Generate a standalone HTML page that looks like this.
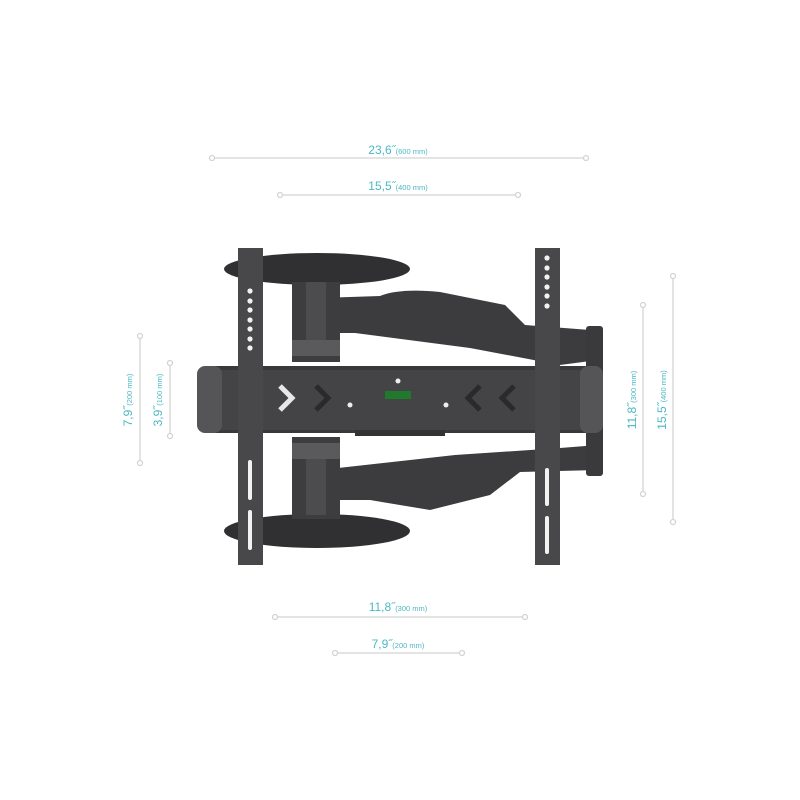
<!DOCTYPE html>
<html><head><meta charset="utf-8"><style>
html,body{margin:0;padding:0;background:#fff;width:800px;height:800px;overflow:hidden}
svg{display:block}
.t{font-family:"Liberation Sans",sans-serif;fill:#4cb8c4}
</style></head><body>
<svg width="800" height="800" viewBox="0 0 800 800">
<g stroke="#d4d4d4" stroke-width="1.3" fill="#fff">
<line x1="212" y1="158" x2="586" y2="158"/><circle cx="212" cy="158" r="2.5"/><circle cx="586" cy="158" r="2.5"/>
<line x1="280" y1="195" x2="518" y2="195"/><circle cx="280" cy="195" r="2.5"/><circle cx="518" cy="195" r="2.5"/>
<line x1="275" y1="617" x2="525" y2="617"/><circle cx="275" cy="617" r="2.5"/><circle cx="525" cy="617" r="2.5"/>
<line x1="335" y1="653" x2="462" y2="653"/><circle cx="335" cy="653" r="2.5"/><circle cx="462" cy="653" r="2.5"/>
<line x1="140" y1="336" x2="140" y2="463"/><circle cx="140" cy="336" r="2.5"/><circle cx="140" cy="463" r="2.5"/>
<line x1="170" y1="363" x2="170" y2="436"/><circle cx="170" cy="363" r="2.5"/><circle cx="170" cy="436" r="2.5"/>
<line x1="643" y1="305" x2="643" y2="494"/><circle cx="643" cy="305" r="2.5"/><circle cx="643" cy="494" r="2.5"/>
<line x1="673" y1="276" x2="673" y2="522"/><circle cx="673" cy="276" r="2.5"/><circle cx="673" cy="522" r="2.5"/>
</g>
<text class="t" x="398" y="154" text-anchor="middle" font-size="12">23,6˝<tspan font-size="7.5">(600 mm)</tspan></text>
<text class="t" x="398" y="190" text-anchor="middle" font-size="12">15,5˝<tspan font-size="7.5">(400 mm)</tspan></text>
<text class="t" x="398" y="611" text-anchor="middle" font-size="12">11,8˝<tspan font-size="7.5">(300 mm)</tspan></text>
<text class="t" x="398" y="648" text-anchor="middle" font-size="12">7,9˝<tspan font-size="7.5">(200 mm)</tspan></text>
<text class="t" font-size="12" text-anchor="middle" transform="translate(132,400) rotate(-90)">7,9˝<tspan font-size="7.5">(200 mm)</tspan></text>
<text class="t" font-size="12" text-anchor="middle" transform="translate(162,400) rotate(-90)">3,9˝<tspan font-size="7.5">(100 mm)</tspan></text>
<text class="t" font-size="12" text-anchor="middle" transform="translate(636,400) rotate(-90)">11,8˝<tspan font-size="7.5">(300 mm)</tspan></text>
<text class="t" font-size="12" text-anchor="middle" transform="translate(666,400) rotate(-90)">15,5˝<tspan font-size="7.5">(400 mm)</tspan></text>

<!-- arms -->
<path d="M320 298 L380 296 Q400 288 440 292 L505 305 L525 325 L590 330 L598 360 L560 365 L470 348 L355 333 L320 333 Z" fill="#3c3c3e"/>
<path d="M320 470 L455 455 L560 448 L598 445 L598 470 L520 472 L490 495 L430 510 L370 500 L320 500 Z" fill="#3c3c3e"/>
<rect x="586" y="326" width="17" height="150" rx="3" fill="#3a3a3c"/>
<!-- discs -->
<ellipse cx="317" cy="269" rx="93" ry="16" fill="#303032"/>
<ellipse cx="317" cy="531" rx="93" ry="17" fill="#303032"/>
<!-- columns -->
<rect x="292" y="282" width="48" height="80" fill="#3d3d3f"/>
<rect x="306" y="282" width="20" height="60" fill="#4c4c4e"/>
<rect x="292" y="340" width="48" height="16" fill="#5a5a5c"/>
<rect x="292" y="437" width="48" height="82" fill="#3d3d3f"/>
<rect x="306" y="455" width="20" height="60" fill="#4c4c4e"/>
<rect x="292" y="443" width="48" height="16" fill="#5a5a5c"/>
<!-- rail -->
<rect x="197" y="366" width="406" height="67" rx="10" fill="#39393b"/>
<rect x="215" y="370" width="370" height="60" fill="#444446"/>
<rect x="355" y="430" width="90" height="6" fill="#333"/>
<rect x="197" y="366" width="25" height="67" rx="8" fill="#555557"/>
<rect x="580" y="366" width="23" height="67" rx="8" fill="#555557"/>
<polyline points="280,386 292,398 280,410" fill="none" stroke="#e8e8e8" stroke-width="5"/>
<polyline points="316,386 328,398 316,410" fill="none" stroke="#2a2a2a" stroke-width="5"/>
<polyline points="480,386 468,398 480,410" fill="none" stroke="#2a2a2a" stroke-width="5"/>
<polyline points="514,386 502,398 514,410" fill="none" stroke="#2a2a2a" stroke-width="5"/>
<rect x="385" y="391" width="26" height="8" fill="#1f7a2c"/>
<circle cx="398" cy="381" r="2.5" fill="#eee"/><circle cx="350" cy="405" r="2.5" fill="#eee"/><circle cx="446" cy="405" r="2.5" fill="#eee"/>
<!-- vertical bars -->
<rect x="238" y="248" width="25" height="317" fill="#48484a"/>
<rect x="535" y="248" width="25" height="317" fill="#48484a"/>
<g fill="#f2f2f2">
<circle cx="250" cy="291" r="2.6"/><circle cx="250" cy="301" r="2.6"/><circle cx="250" cy="310" r="2.6"/><circle cx="250" cy="320" r="2.6"/><circle cx="250" cy="329" r="2.6"/><circle cx="250" cy="339" r="2.6"/><circle cx="250" cy="348" r="2.6"/>
<circle cx="547" cy="258" r="2.6"/><circle cx="547" cy="268" r="2.6"/><circle cx="547" cy="277" r="2.6"/><circle cx="547" cy="287" r="2.6"/><circle cx="547" cy="296" r="2.6"/><circle cx="547" cy="306" r="2.6"/>
<rect x="248" y="460" width="4" height="40" rx="2"/><rect x="248" y="510" width="4" height="40" rx="2"/>
<rect x="545" y="468" width="4" height="38" rx="2"/><rect x="545" y="516" width="4" height="38" rx="2"/>
</g>
</svg>
</body></html>
